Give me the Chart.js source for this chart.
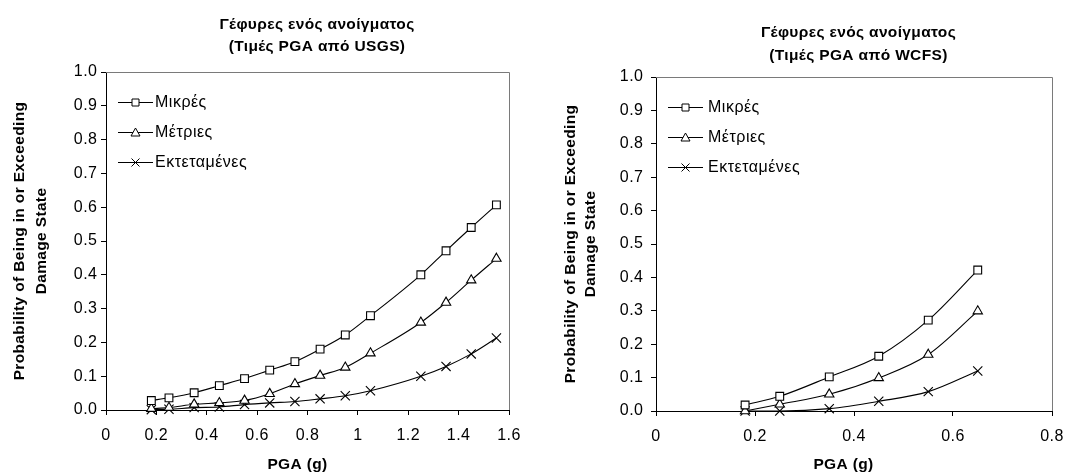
<!DOCTYPE html>
<html>
<head>
<meta charset="utf-8">
<script src="https://cdn.jsdelivr.net/npm/chart.js@4.4.1/dist/chart.umd.min.js"></script>
<style>
  html, body { margin: 0; padding: 0; background: #ffffff; }
  .wrap { position: absolute; top: 0; width: 546px; height: 474px; }
</style>
</head>
<body>
<div class="wrap" style="left:0px"><canvas id="c1" width="546" height="474"></canvas></div>
<div class="wrap" style="left:546px"><canvas id="c2" width="546" height="474"></canvas></div>
<script>
// ---------- data ----------
const seriesNames = ['Μικρές', 'Μέτριες', 'Εκτεταμένες'];

const usgsPGA       = [0.18, 0.25, 0.35, 0.45, 0.55, 0.65, 0.75, 0.85, 0.95, 1.05, 1.25, 1.35, 1.45, 1.55];
const usgsMinor     = [0.028, 0.036, 0.051, 0.072, 0.093, 0.118, 0.143, 0.180, 0.222, 0.279, 0.400, 0.471, 0.540, 0.607];
const usgsModerate  = [0.004, 0.007, 0.017, 0.021, 0.028, 0.048, 0.077, 0.102, 0.126, 0.168, 0.259, 0.318, 0.384, 0.448];
const usgsExtensive = [0.001, 0.002, 0.007, 0.009, 0.016, 0.021, 0.025, 0.033, 0.042, 0.057, 0.100, 0.129, 0.166, 0.213];

const wcfsPGA       = [0.18, 0.25, 0.35, 0.45, 0.55, 0.65];
const wcfsMinor     = [0.018, 0.044, 0.102, 0.164, 0.272, 0.422];
const wcfsModerate  = [0.000, 0.020, 0.050, 0.099, 0.169, 0.299];
const wcfsExtensive = [0.000, 0.000, 0.007, 0.029, 0.058, 0.120];

const yTickLabels     = ['0.0', '0.1', '0.2', '0.3', '0.4', '0.5', '0.6', '0.7', '0.8', '0.9', '1.0'];
const xTickLabelsUSGS = ['0', '0.2', '0.4', '0.6', '0.8', '1', '1.2', '1.4', '1.6'];
const xTickLabelsWCFS = ['0', '0.2', '0.4', '0.6', '0.8'];

const titleUSGS = ['Γέφυρες ενός ανοίγματος', '(Τιμές PGA από USGS)'];
const titleWCFS = ['Γέφυρες ενός ανοίγματος', '(Τιμές PGA από WCFS)'];
const yAxisTitle = ['Probability of Being in or Exceeding', 'Damage State'];
const xAxisTitle = 'PGA (g)';

// ---------- styling ----------
const FAMILY = '"Liberation Sans", Arial, Helvetica, sans-serif';
const markerStyles = ['rect', 'triangle', 'crossRot'];
const markerRadii  = [5.5, 5.4, 6.5];

function zip(xs, ys) { return xs.map((x, i) => ({ x: x, y: ys[i] })); }

function makeDatasets(xs, seriesList) {
  return seriesList.map((ys, i) => ({
    label: seriesNames[i],
    data: zip(xs, ys),
    borderColor: '#000000',
    borderWidth: 1.1,
    backgroundColor: '#ffffff',
    pointStyle: markerStyles[i],
    pointRadius: markerRadii[i],
    pointHoverRadius: markerRadii[i],
    pointBorderColor: '#000000',
    pointBackgroundColor: '#ffffff',
    pointBorderWidth: 1.1,
    cubicInterpolationMode: 'monotone',
    fill: false,
    clip: false
  }));
}

function drawLegendMarker(ctx, style, x, y) {
  ctx.save();
  ctx.strokeStyle = '#000';
  ctx.fillStyle = '#fff';
  ctx.lineWidth = 1;
  ctx.beginPath();
  if (style === 'rect') {
    ctx.rect(x - 3.5, y - 3.5, 7, 7);
    ctx.fill(); ctx.stroke();
  } else if (style === 'triangle') {
    ctx.moveTo(x, y - 4.5);
    ctx.lineTo(x + 4.5, y + 3.5);
    ctx.lineTo(x - 4.5, y + 3.5);
    ctx.closePath();
    ctx.fill(); ctx.stroke();
  } else {
    ctx.moveTo(x - 4, y - 4); ctx.lineTo(x + 4, y + 4);
    ctx.moveTo(x + 4, y - 4); ctx.lineTo(x - 4, y + 4);
    ctx.stroke();
  }
  ctx.restore();
}

const overlayPlugin = {
  id: 'overlay',
  beforeDraw(chart) {
    // slightly wider letter spacing for the tick labels, as in the reference
    try { chart.ctx.letterSpacing = '0.5px'; } catch (e) {}
  },
  beforeDatasetsDraw(chart) {
    const { ctx, chartArea: a } = chart;
    ctx.save();
    ctx.strokeStyle = '#7a7a7a';
    ctx.lineWidth = 1;
    ctx.beginPath();
    ctx.moveTo(a.left, a.top + 0.5);
    ctx.lineTo(a.right + 0.5, a.top + 0.5);
    ctx.lineTo(a.right + 0.5, a.bottom);
    ctx.stroke();
    ctx.restore();
  },
  afterDraw(chart, args, o) {
    const { ctx, chartArea: a } = chart;
    ctx.save();
    ctx.fillStyle = '#000';
    try { ctx.letterSpacing = '0.35px'; } catch (e) {}
    // chart title
    ctx.font = 'bold 15.5px ' + FAMILY;
    ctx.textAlign = 'center';
    ctx.textBaseline = 'middle';
    o.title.forEach((t, i) => ctx.fillText(t, o.titleX, o.titleY[i]));
    // x-axis title
    ctx.fillText(xAxisTitle, o.xTitleX, o.xTitleY);
    // y-axis title (rotated)
    const cy = (a.top + a.bottom) / 2;
    yAxisTitle.forEach((t, i) => {
      ctx.save();
      ctx.translate(o.yTitleX[i], cy);
      ctx.rotate(-Math.PI / 2);
      ctx.fillText(t, 0, 0);
      ctx.restore();
    });
    // legend inside plot area
    try { ctx.letterSpacing = '0.5px'; } catch (e) {}
    ctx.font = '16px ' + FAMILY;
    ctx.textAlign = 'left';
    chart.data.datasets.forEach((ds, i) => {
      const y = a.top + o.legendY[i];
      const x0 = a.left + o.legendLine[0];
      const x1 = a.left + o.legendLine[1];
      ctx.strokeStyle = '#000';
      ctx.lineWidth = 1;
      ctx.beginPath();
      ctx.moveTo(x0, y + 0.5);
      ctx.lineTo(x1, y + 0.5);
      ctx.stroke();
      drawLegendMarker(ctx, ds.pointStyle, (x0 + x1) / 2, y + 0.5);
      ctx.fillStyle = '#000';
      ctx.fillText(ds.label, a.left + o.legendText, y + 1);
    });
    ctx.restore();
  }
};

function makeChart(id, xs, series, xMax, xLabels, title, L) {
  return new Chart(document.getElementById(id), {
    type: 'line',
    data: { datasets: makeDatasets(xs, series) },
    plugins: [overlayPlugin],
    options: {
      responsive: false,
      animation: false,
      devicePixelRatio: 1,
      layout: { padding: { left: 0, top: L.top, right: L.right, bottom: 0 } },
      plugins: {
        legend: { display: false },
        title: { display: false },
        tooltip: { enabled: false },
        overlay: {
          title: title,
          titleX: L.titleX,
          titleY: L.titleY,
          xTitleX: L.xTitleX,
          xTitleY: L.xTitleY,
          yTitleX: L.yTitleX,
          legendY: [30, 60, 90],
          legendLine: [12, 47],
          legendText: L.legendText
        }
      },
      scales: {
        x: {
          type: 'linear',
          min: 0,
          max: xMax,
          afterFit: (s) => { s.height = L.xHeight; },
          ticks: {
            stepSize: 0.2,
            color: '#000',
            padding: L.xPad,
            font: { family: FAMILY, size: 16 },
            maxRotation: 0,
            autoSkip: false,
            callback: (v, i) => xLabels[i]
          },
          grid: { drawOnChartArea: false, drawTicks: true, tickLength: 5, color: '#000' },
          border: { display: true, color: '#000', width: 1 }
        },
        y: {
          type: 'linear',
          min: 0,
          max: 1,
          afterFit: (s) => { s.width = L.yWidth; },
          ticks: {
            stepSize: 0.1,
            color: '#000',
            padding: L.yPad,
            font: { family: FAMILY, size: 16 },
            autoSkip: false,
            callback: (v, i) => yTickLabels[i]
          },
          grid: { drawOnChartArea: false, drawTicks: true, tickLength: 5, color: '#000' },
          border: { display: true, color: '#000', width: 1 }
        }
      }
    }
  });
}

makeChart('c1', usgsPGA, [usgsMinor, usgsModerate, usgsExtensive], 1.6, xTickLabelsUSGS, titleUSGS, {
  top: 72, right: 37, yWidth: 106, xHeight: 64, xPad: 10.5, yPad: 3.5,
  titleX: 317, titleY: [24.5, 46.5], xTitleX: 297.5, xTitleY: 465,
  yTitleX: [20, 42], legendText: 49
});

makeChart('c2', wcfsPGA, [wcfsMinor, wcfsModerate, wcfsExtensive], 0.8, xTickLabelsWCFS, titleWCFS, {
  top: 77, right: 40, yWidth: 110, xHeight: 63, xPad: 10.5, yPad: 7.5,
  titleX: 312.5, titleY: [32.5, 55.5], xTitleX: 297.5, xTitleY: 465,
  yTitleX: [25, 45], legendText: 52
});
</script>
</body>
</html>
